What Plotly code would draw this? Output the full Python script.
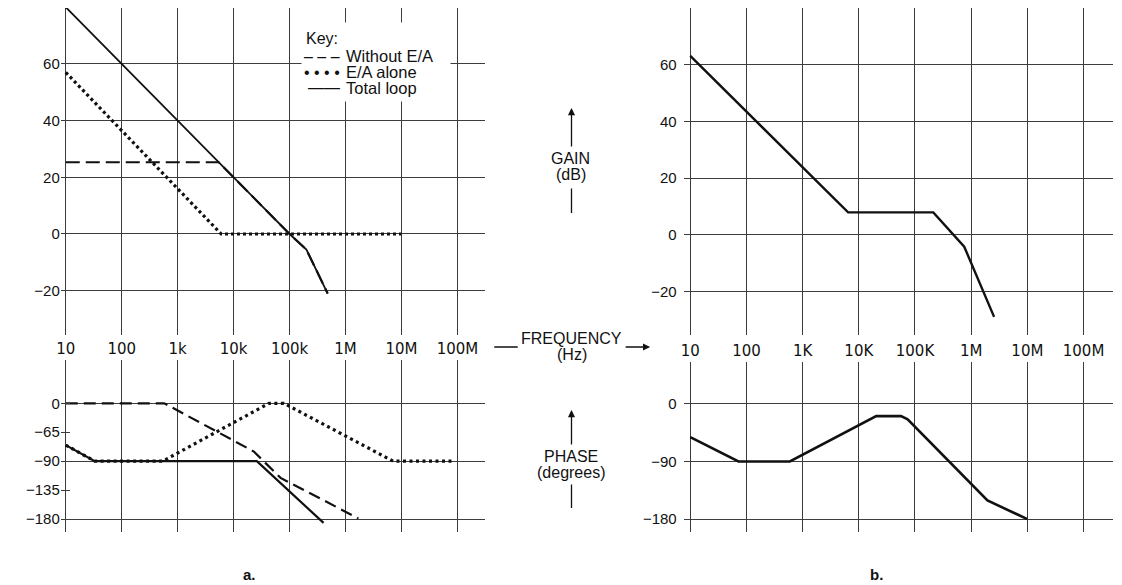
import plotly.graph_objects as go

W, H = 1122, 585
OFF = 8  # the page body margin shifts the figure by this many pixels

# frequency grid and tick labels
FREQ_TICKS = [10, 100, 1e3, 1e4, 1e5, 1e6, 1e7, 1e8]
FREQ_LABELS_A = ['10', '100', '1k', '10k', '100k', '1M', '10M', '100M']
FREQ_LABELS_B = ['10', '100', '1K', '10K', '100K', '1M', '10M', '100M']

GAIN_TICKS = [60, 40, 20, 0, -20]
GAIN_LABELS = ['60', '40', '20', '0', '\u221220']
PHASE_TICKS_A = [0, -45, -90, -135, -180]
PHASE_LABELS_A = ['0', '\u221265', '\u221290', '\u2212135', '\u2212180']
PHASE_GRID_A = [0, -90, -180]
PHASE_TICKS_B = [0, -90, -180]
PHASE_LABELS_B = ['0', '\u221290', '\u2212180']

# a. gain (dB)
A_WITHOUT_F = [10, 5400, 1e5, 2e5, 4.8e5]
A_WITHOUT_DB = [25.3, 25.3, 0, -5.5, -21]
A_EA_F = [10, 6000, 1e7]
A_EA_DB = [57, 0, 0]
A_TOTAL_F = [10, 1e5, 2e5, 4.8e5]
A_TOTAL_DB = [80, 0, -5.5, -21]

# a. phase (degrees)
A_WITHOUT_PH_F = [10, 575, 23000, 69000, 1.7e6]
A_WITHOUT_PH = [0, 0, -75, -116, -179]
A_EA_PH_F = [10, 33, 540, 43000, 79000, 7.1e6, 9e7]
A_EA_PH = [-65, -90, -90, 0, 0, -90, -90]
A_TOTAL_PH_F = [10, 33, 26000, 405000]
A_TOTAL_PH = [-65, -90, -90, -186]

# b. gain (dB) and phase (degrees)
B_GAIN_F = [10, 6450, 212000, 752000, 2.56e6]
B_GAIN_DB = [63.2, 7.9, 7.9, -4.2, -29]
B_PH_F = [10, 72, 593, 20400, 56500, 74000, 1.95e6, 1e7]
B_PH = [-52, -90, -90, -19, -19, -24, -151, -180]

# key entries: sample glyphs and labels
KEY_SAMPLES = ['\u2013 \u2013 \u2013', '\u2022 \u2022 \u2022 \u2022', '\u2014\u2014']
KEY_LABELS = ['Without E/A', 'E/A alone', 'Total loop']

INK = '#111111'
GRID = '#3c3c3c'
SANS = 'Liberation Sans, Arial, sans-serif'
YFONT = dict(family=SANS, size=15, color=INK)
XFONT = dict(family='DejaVu Sans, sans-serif', size=15, color=INK)
TFONT = dict(family=SANS, size=16, color=INK)


def px_x(p):
    return (p - OFF) / W


def px_y(p):
    return 1 - (p - OFF) / H


fig = go.Figure()

# left gain
fig.add_trace(go.Scatter(x=A_WITHOUT_F, y=A_WITHOUT_DB, name='Without E/A', mode='lines',
                         line=dict(color=INK, width=2.2, dash='14px,6px'), xaxis='x', yaxis='y'))
fig.add_trace(go.Scatter(x=A_EA_F, y=A_EA_DB, name='E/A alone', mode='lines',
                         line=dict(color=INK, width=3.2, dash='3px,3px'), xaxis='x', yaxis='y'))
fig.add_trace(go.Scatter(x=A_TOTAL_F, y=A_TOTAL_DB, name='Total loop', mode='lines',
                         line=dict(color=INK, width=1.8), xaxis='x', yaxis='y'))

# left phase
fig.add_trace(go.Scatter(x=A_WITHOUT_PH_F, y=A_WITHOUT_PH, mode='lines',
                         line=dict(color=INK, width=2.2, dash='12px,6px'), xaxis='x2', yaxis='y2'))
fig.add_trace(go.Scatter(x=A_EA_PH_F, y=A_EA_PH, mode='lines',
                         line=dict(color=INK, width=3.2, dash='3px,3.5px'), xaxis='x2', yaxis='y2'))
fig.add_trace(go.Scatter(x=A_TOTAL_PH_F, y=A_TOTAL_PH, mode='lines',
                         line=dict(color=INK, width=2.2), xaxis='x2', yaxis='y2'))

# right panel
fig.add_trace(go.Scatter(x=B_GAIN_F, y=B_GAIN_DB, mode='lines',
                         line=dict(color=INK, width=2.4), xaxis='x3', yaxis='y3'))
fig.add_trace(go.Scatter(x=B_PH_F, y=B_PH, mode='lines',
                         line=dict(color=INK, width=2.6), xaxis='x4', yaxis='y4'))

common_x = dict(type='log', tickvals=FREQ_TICKS, showgrid=True, gridcolor=GRID, gridwidth=1.3,
                zeroline=False, showline=False, ticks='', fixedrange=True)
common_y = dict(showgrid=True, gridcolor=GRID, gridwidth=1.3, zeroline=False, showline=False,
                ticks='', tickfont=YFONT, fixedrange=True)

fig.update_layout(
    width=W, height=H, autosize=False,
    margin=dict(l=0, r=0, t=0, b=0),
    paper_bgcolor='white', plot_bgcolor='white',
    showlegend=False,
    xaxis=dict(common_x, domain=[px_x(56), px_x(482)], range=[0.9110, 8.491], anchor='y',
               showticklabels=False),
    yaxis=dict(common_y, domain=[px_y(335), px_y(8)], range=[-35.63, 79.72], anchor='x',
               tickvals=GAIN_TICKS, ticktext=GAIN_LABELS),
    xaxis2=dict(common_x, domain=[px_x(56), px_x(482)], range=[0.9110, 8.491], anchor='y2',
                side='top', ticktext=FREQ_LABELS_A, tickfont=XFONT, ticklabelstandoff=2),
    yaxis2=dict(common_y, domain=[px_y(532), px_y(360)], range=[-200.1, 67.3], anchor='x2',
                tickvals=PHASE_TICKS_A, ticktext=PHASE_LABELS_A, showgrid=False,
                ticks='inside', ticklen=9, tickcolor=GRID, tickwidth=1.3,
                minor=dict(tickmode='array', tickvals=PHASE_GRID_A, showgrid=True,
                           gridcolor=GRID, gridwidth=1.3)),
    xaxis3=dict(common_x, domain=[px_x(681.7), px_x(1113)], range=[0.883, 8.526], anchor='y3',
                showticklabels=False),
    yaxis3=dict(common_y, domain=[px_y(335), px_y(8)], range=[-35.4, 80.1], anchor='x3',
                tickvals=GAIN_TICKS, ticktext=GAIN_LABELS, ticklabelstandoff=6),
    xaxis4=dict(common_x, domain=[px_x(681.7), px_x(1113)], range=[0.883, 8.526], anchor='y4',
                side='top', ticktext=FREQ_LABELS_B, tickfont=XFONT, ticklabelstandoff=2),
    yaxis4=dict(common_y, domain=[px_y(532), px_y(362)], range=[-200.2, 65.6], anchor='x4',
                tickvals=PHASE_TICKS_B, ticktext=PHASE_LABELS_B, ticklabelstandoff=6),
)


def label(text, x, y, font=TFONT, xanchor='center', **kw):
    fig.add_annotation(x=px_x(x), y=px_y(y), xref='paper', yref='paper', text=text,
                       showarrow=False, font=font, xanchor=xanchor, yanchor='middle', **kw)


# key box (white patch over the grid), title and entries
fig.add_annotation(x=px_x(297), y=px_y(22), xref='paper', yref='paper', text=' ',
                   showarrow=False, xanchor='left', yanchor='top', width=148, height=78,
                   bgcolor='white', borderpad=0)
label('Key:', 300, 38, xanchor='left')
for i, (sample, name) in enumerate(zip(KEY_SAMPLES, KEY_LABELS)):
    yy = 56 + 16 * i
    label(sample, 338, yy, xanchor='right')
    label(name, 340, yy, font=dict(TFONT, size=16.5), xanchor='left')

# middle labels
label('GAIN', 568, 159)
label('(dB)', 568, 174)
label('FREQUENCY', 569, 338)
label('(Hz)', 569, 354)
label('PHASE', 568, 456)
label('(degrees)', 568, 472)

# arrows and connector lines beside the middle labels
arrows = [
    (569, 108, 0, 40, 2), (569, 213, 0, -26, 0),
    (648, 347, -26, 0, 2), (515, 347, -25, 0, 0),
    (569, 410, 0, 36, 2), (569, 508, 0, -25, 0),
]
for x, y, ax, ay, head in arrows:
    fig.add_annotation(x=px_x(x), y=px_y(y), xref='paper', yref='paper', text='',
                       showarrow=True, ax=ax, ay=ay, arrowhead=head, arrowsize=1.1,
                       arrowwidth=1.3, arrowcolor=INK, standoff=0, startstandoff=0)

label('<b>a.</b>', 246, 574, font=dict(family=SANS, size=15, color=INK))
label('<b>b.</b>', 875, 574, font=dict(family=SANS, size=15, color=INK))

fig.write_html("out.html")
